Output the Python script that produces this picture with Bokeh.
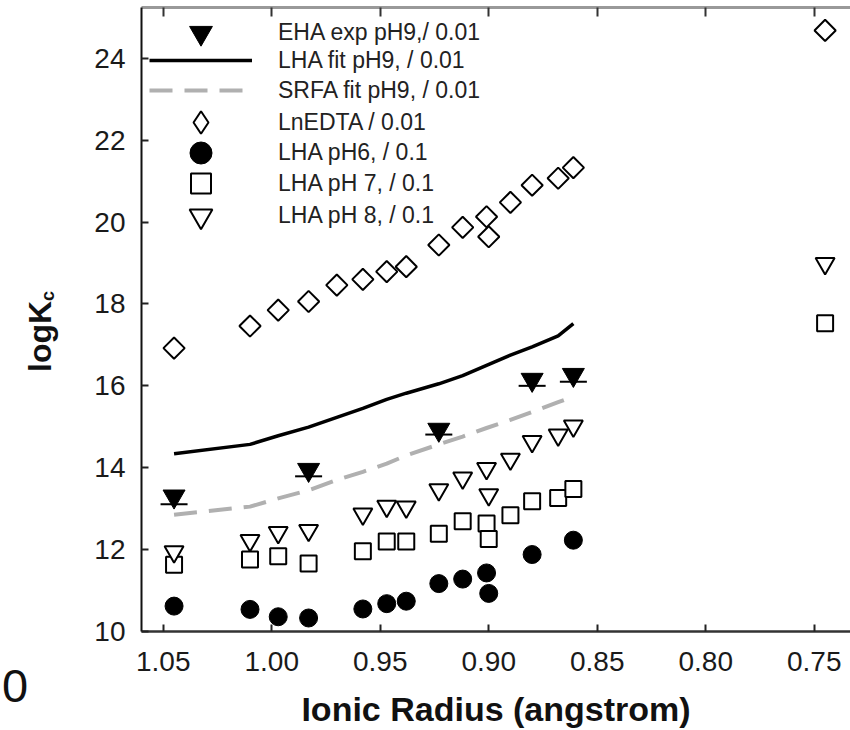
import numpy as np
from bokeh.plotting import figure
from bokeh.layouts import row
from bokeh.core.properties import value
from bokeh.models import (Range1d, FixedTicker, LinearAxis, Legend, LegendItem,
                          ColumnDataSource, Whisker, TeeHead, NumeralTickFormatter)
from bokeh.embed import file_html
from bokeh.resources import INLINE

# ---------------- data ----------------
x_ticks = [1.05, 1.00, 0.95, 0.90, 0.85, 0.80, 0.75]
y_ticks = [10, 12, 14, 16, 18, 20, 22, 24]

# lanthanide ionic radii (La..Lu) used for the fitted curves
fit_radius = [1.045, 1.01, 0.997, 0.983, 0.97, 0.958, 0.947, 0.938, 0.923,
              0.912, 0.901, 0.89, 0.88, 0.868, 0.861]
lha_fit_ph9 = [14.34, 14.57, 14.78, 14.99, 15.23, 15.45, 15.67, 15.82, 16.05,
               16.25, 16.50, 16.75, 16.95, 17.22, 17.52]
srfa_fit_ph9 = [12.85, 13.05, 13.25, 13.45, 13.70, 13.90, 14.10, 14.30, 14.57,
                14.76, 14.97, 15.17, 15.36, 15.60, 15.74]

eha_radius = [1.045, 0.983, 0.923, 0.88, 0.861]
eha_exp_ph9 = [13.30, 13.95, 14.93, 16.15, 16.27]
eha_err = [0.19, 0.16, 0.12, 0.15, 0.17]

edta_radius = [1.045, 1.01, 0.997, 0.983, 0.97, 0.958, 0.947, 0.938, 0.923,
               0.912, 0.901, 0.900, 0.89, 0.88, 0.868, 0.861, 0.745]
ln_edta = [16.92, 17.46, 17.85, 18.06, 18.46, 18.60, 18.79, 18.91, 19.44,
           19.87, 20.13, 19.64, 20.48, 20.90, 21.07, 21.33, 24.68]

ph6_radius = [1.045, 1.01, 0.997, 0.983, 0.958, 0.947, 0.938, 0.923, 0.912,
              0.901, 0.900, 0.88, 0.861]
lha_ph6 = [10.62, 10.54, 10.36, 10.33, 10.55, 10.68, 10.74, 11.17, 11.28,
           11.43, 10.93, 11.88, 12.23]

ph7_radius = [1.045, 1.01, 0.997, 0.983, 0.958, 0.947, 0.938, 0.923, 0.912,
              0.901, 0.900, 0.89, 0.88, 0.868, 0.861, 0.745]
lha_ph7 = [11.63, 11.76, 11.84, 11.66, 11.96, 12.20, 12.20, 12.39, 12.69,
           12.64, 12.26, 12.84, 13.18, 13.26, 13.48, 17.53]

ph8_radius = [1.045, 1.01, 0.997, 0.983, 0.958, 0.947, 0.938, 0.923, 0.912,
              0.901, 0.900, 0.89, 0.88, 0.868, 0.861, 0.745]
lha_ph8 = [11.95, 12.22, 12.42, 12.47, 12.87, 13.06, 13.04, 13.46, 13.75,
           13.98, 13.34, 14.21, 14.64, 14.80, 15.02, 18.99]

legend_labels = ["EHA exp pH9,/ 0.01", "LHA fit pH9, / 0.01", "SRFA fit pH9, / 0.01",
                 "LnEDTA / 0.01", "LHA pH6, / 0.1", "LHA pH 7, / 0.1", "LHA pH 8, / 0.1"]

FONT = "Liberation Sans"
LEFT_W = 91      # width of the strip that carries the y title
H = 730
FRAME_TOP, FRAME_BOTTOM = 7, 632

# ---------------- main figure ----------------
p = figure(width=850 - LEFT_W, height=H, output_backend="svg", toolbar_location=None,
           x_range=Range1d(1.06, 0.7333), y_range=Range1d(10, 25.24),
           min_border_left=48, min_border_right=0, min_border_top=FRAME_TOP,
           min_border_bottom=H - FRAME_BOTTOM)
p.outline_line_color = None
p.grid.visible = False
p.background_fill_color = "white"

ya = p.yaxis[0]
ya.ticker = FixedTicker(ticks=y_ticks)
ya.major_tick_in = 7
ya.major_tick_out = 0
ya.minor_tick_in = 0
ya.minor_tick_out = 0
ya.axis_line_width = 2
ya.axis_line_color = "#111111"
ya.major_tick_line_width = 2
ya.major_tick_line_color = "#222222"
ya.major_label_text_font = FONT
ya.major_label_text_font_size = "28px"
ya.major_label_text_color = "#1a1a1a"
ya.major_label_standoff = 16

xa = p.xaxis[0]
xa.ticker = FixedTicker(ticks=x_ticks)
xa.formatter = NumeralTickFormatter(format="0.00")
xa.major_tick_in = 7
xa.major_tick_out = 0
xa.minor_tick_in = 0
xa.minor_tick_out = 0
xa.axis_line_width = 2.5
xa.axis_line_color = "#333333"
xa.major_tick_line_width = 2
xa.major_tick_line_color = "#222222"
xa.major_label_text_font = FONT
xa.major_label_text_font_size = "28px"
xa.major_label_text_color = "#1a1a1a"
xa.major_label_standoff = 20
xa.axis_label = "Ionic Radius (angstrom)"
xa.axis_label_text_font = FONT
xa.axis_label_text_font_style = "bold"
xa.axis_label_text_font_size = "34px"
xa.axis_label_text_color = "#111111"
xa.axis_label_standoff = 16

# top axis: ticks only
ta = LinearAxis(ticker=FixedTicker(ticks=x_ticks), axis_label=None,
                major_label_overrides={t: "" for t in x_ticks},
                major_label_text_font_size="1px", major_label_standoff=0,
                major_tick_in=9, major_tick_out=0, minor_tick_in=0, minor_tick_out=0,
                axis_line_color="#999999", axis_line_width=3,
                major_tick_line_color="#333333", major_tick_line_width=2)
p.add_layout(ta, "above")

# ---------------- glyphs ----------------
r_lha = p.line(fit_radius, lha_fit_ph9, line_color="black", line_width=3.5)
r_srfa = p.line(fit_radius, srfa_fit_ph9, line_color="#b0b0b0", line_width=4,
                line_dash="23 12")

eha_src = ColumnDataSource(dict(x=eha_radius, y=eha_exp_ph9,
                                lo=[v - e for v, e in zip(eha_exp_ph9, eha_err)]))
wh = Whisker(source=eha_src, base="x", upper="y", lower="lo", dimension="height",
             line_color="black", line_width=2, upper_head=None,
             lower_head=TeeHead(size=27, line_color="black", line_width=2))
p.add_layout(wh)

r_eha = p.scatter("x", "y", source=eha_src, marker="inverted_triangle", size=22,
                  fill_color="black", line_color="black", line_width=1)
r_edta = p.scatter(edta_radius, ln_edta, marker="square", angle=np.pi / 4, size=15,
                   fill_color="white", line_color="black", line_width=2)
# legend swatch for the diamond series (a point that is never shown)
r_edta_key = p.scatter(x=[float("nan")], y=[float("nan")], marker="diamond",
                       fill_color="white", line_color="black", line_width=2)
r_ph6 = p.scatter(ph6_radius, lha_ph6, marker="circle", size=18,
                  fill_color="black", line_color="black", line_width=1)
r_ph7 = p.scatter(ph7_radius, lha_ph7, marker="square", size=16,
                  fill_color="white", line_color="black", line_width=2)
r_ph8 = p.scatter(ph8_radius, lha_ph8, marker="inverted_triangle", size=19,
                  fill_color="white", line_color="black", line_width=2)

# one legend per entry, so that swatch size and row spacing can both match
legend_renderers = [r_eha, r_lha, r_srfa, r_edta_key, r_ph6, r_ph7, r_ph8]
row_centers = [33, 61, 91, 123, 153, 184, 216]          # px from top of canvas
swatch_heights = [57, 52, 52, 56, 55, 50, 57]           # marker size = 0.4 * height
for lab, rend, yc, gh in zip(legend_labels, legend_renderers, row_centers, swatch_heights):
    lg = Legend(items=[LegendItem(label=lab, renderers=[rend])],
                location=(8, FRAME_BOTTOM - yc - gh / 2), margin=0, padding=0, spacing=0,
                glyph_height=gh, glyph_width=103, label_height=20, label_standoff=26,
                background_fill_alpha=0, border_line_alpha=0,
                label_text_font=FONT, label_text_font_size="23px",
                label_text_color="#222222")
    p.add_layout(lg)

# ---------------- left strip: y title "logK" + subscript "c" ----------------
# its frame is aligned with the main frame (px 7..632); data units = canvas px
X0 = 11.5   # centre of the stray "0" below the strip
lf = figure(width=LEFT_W, height=H, output_backend="svg", toolbar_location=None,
            x_range=Range1d(-X0, LEFT_W - X0), y_range=Range1d(FRAME_BOTTOM, FRAME_TOP),
            x_axis_type=None, y_axis_type=None, min_border=0, title=None)
lf.outline_line_color = None
lf.background_fill_color = "white"
lf.border_fill_color = "white"

lf.text(x=[39 - X0], y=[372], text=["logK"], angle=np.pi / 2, text_align="left",
        text_baseline="alphabetic", text_font=value(FONT), text_font_style="bold",
        text_font_size="32px", text_color="#111111")
lf.text(x=[47 - X0], y=[301], text=["c"], angle=np.pi / 2, text_align="left",
        text_baseline="alphabetic", text_font=value(FONT), text_font_style="bold",
        text_font_size="18px", text_color="#111111")

# the stray "0" in the lower-left corner of the source image, as a tick label
zero_axis = LinearAxis(ticker=FixedTicker(ticks=[0]), axis_line_color=None,
                       major_tick_line_color=None, major_tick_in=0, major_tick_out=0,
                       minor_tick_in=0, minor_tick_out=0, major_label_standoff=38,
                       major_label_text_font=FONT, major_label_text_font_size="47px",
                       major_label_text_color="#111111")
lf.add_layout(zero_axis, "below")

layout = row(lf, p, spacing=0)
open("out.html", "w").write(file_html(layout, INLINE))
